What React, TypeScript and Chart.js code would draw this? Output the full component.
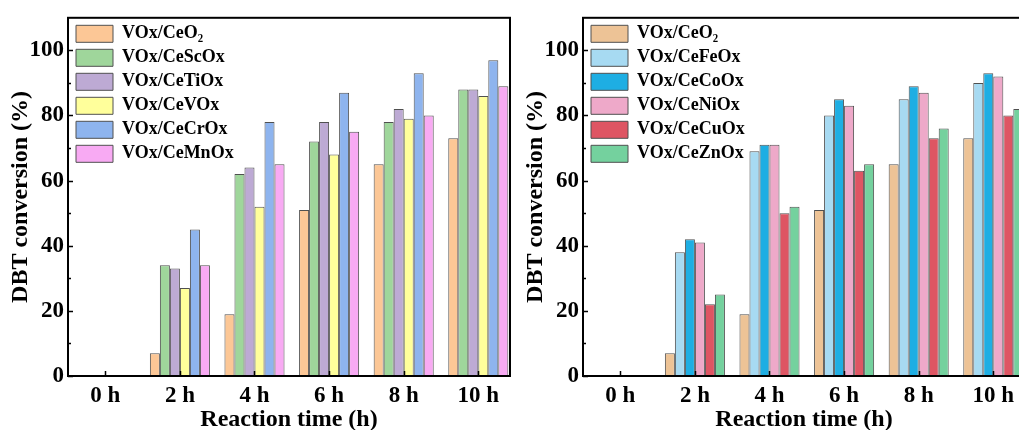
import React, { useEffect, useRef } from 'react';
import { Chart, registerables } from 'chart.js';

Chart.register(...registerables);

const FONT = '"Liberation Serif", "Times New Roman", serif';

// ---- shared axis data ----
const times = [0, 2, 4, 6, 8, 10];
const timeTickLabels = ['0 h', '2 h', '4 h', '6 h', '8 h', '10 h'];
const yMajorTicks = [0, 20, 40, 60, 80, 100];
const yMinorTicks = [10, 30, 50, 70, 90];
const xTitle = 'Reaction time (h)';
const yTitle = 'DBT conversion (%)';

// ---- left panel ----
const leftLabels = ['VOx/CeO₂', 'VOx/CeScOx', 'VOx/CeTiOx', 'VOx/CeVOx', 'VOx/CeCrOx', 'VOx/CeMnOx'];
const leftColors = ['#FCC796', '#9FD69B', '#BDAAD4', '#FFFF9B', '#8EB4EE', '#F8AAF3'];
const leftCeO2 = [0, 7, 19, 51, 65, 73];
const leftCeScOx = [0, 34, 62, 72, 78, 88];
const leftCeTiOx = [0, 33, 64, 78, 82, 88];
const leftCeVOx = [0, 27, 52, 68, 79, 86];
const leftCeCrOx = [0, 45, 78, 87, 93, 97];
const leftCeMnOx = [0, 34, 65, 75, 80, 89];

// ---- right panel ----
const rightLabels = ['VOx/CeO₂', 'VOx/CeFeOx', 'VOx/CeCoOx', 'VOx/CeNiOx', 'VOx/CeCuOx', 'VOx/CeZnOx'];
const rightColors = ['#EDC396', '#A7DAF2', '#1EAEE3', '#EEA9C9', '#DE5563', '#74D19E'];
const rightCeO2 = [0, 7, 19, 51, 65, 73];
const rightCeFeOx = [0, 38, 69, 80, 85, 90];
const rightCeCoOx = [0, 42, 71, 85, 89, 93];
const rightCeNiOx = [0, 41, 71, 83, 87, 92];
const rightCeCuOx = [0, 22, 50, 63, 73, 80];
const rightCeZnOx = [0, 25, 52, 65, 76, 82];

const legendPlacePlugin = {
  id: 'legendPlace',
  afterLayout(chart: any) {
    const lg = chart.legend;
    if (!lg) return;
    const a = chart.chartArea;
    lg.top = a.top + 1;
    lg.bottom = lg.top + lg.height;
    lg.left = a.left + 2;
    lg.right = lg.left + lg.width;
  },
};

const frameTicksPlugin = {
  id: 'frameTicks',
  afterDatasetsDraw(chart: any) {
    const { ctx, chartArea: a, scales } = chart;
    const x = scales.x;
    const y = scales.y;
    ctx.save();
    ctx.strokeStyle = '#000';
    ctx.lineWidth = 1.5;
    ctx.beginPath();
    for (const v of yMajorTicks) {
      const py = Math.round(y.getPixelForValue(v)) + 0.5;
      ctx.moveTo(a.left, py);
      ctx.lineTo(a.left + 5, py);
    }
    for (const v of yMinorTicks) {
      const py = Math.round(y.getPixelForValue(v)) + 0.5;
      ctx.moveTo(a.left, py);
      ctx.lineTo(a.left + 3, py);
    }
    for (const t of times) {
      const px = Math.round(x.getPixelForValue(t)) + 0.5;
      ctx.moveTo(px, a.bottom);
      ctx.lineTo(px, a.bottom - 5);
    }
    ctx.stroke();
    ctx.lineWidth = 2;
    ctx.strokeRect(a.left, a.top, a.right - a.left, a.bottom - a.top);
    ctx.restore();
  },
};

function makeConfig(labels: string[], colors: string[], series: number[][]): any {
  const tickFont = { family: FONT, size: 23, weight: 'bold' as const };
  return {
    type: 'bar',
    data: {
      datasets: series.map((s, i) => ({
        label: labels[i],
        data: times.map((t, j) => ({ x: t, y: s[j] })),
        backgroundColor: colors[i],
        borderColor: '#505050',
        borderWidth: 1,
      })),
    },
    options: {
      responsive: false,
      animation: false,
      devicePixelRatio: 1,
      layout: { padding: { left: 0, right: 5, top: 14, bottom: 0 } },
      datasets: { bar: { categoryPercentage: 0.805, barPercentage: 1 } },
      scales: {
        x: {
          type: 'linear',
          min: -1,
          max: 10.85,
          offset: false,
          grid: { display: false, drawTicks: false },
          border: { display: false },
          ticks: {
            stepSize: 2,
            includeBounds: false,
            autoSkip: false,
            maxRotation: 0,
            padding: 6,
            color: '#000',
            font: tickFont,
            callback: (v: number) => {
              const i = times.indexOf(v);
              return i >= 0 ? timeTickLabels[i] : '';
            },
          },
          title: {
            display: true,
            text: xTitle,
            color: '#000',
            font: { family: FONT, size: 24, weight: 'bold', lineHeight: 1 },
            padding: { top: 0, bottom: -2 },
          },
          afterFit: (s: any) => {
            s.height = 54;
          },
        },
        y: {
          min: 0,
          max: 110,
          grid: { display: false, drawTicks: false },
          border: { display: false },
          ticks: {
            stepSize: 20,
            includeBounds: false,
            padding: 4,
            color: '#000',
            font: tickFont,
          },
          title: {
            display: true,
            text: yTitle,
            color: '#000',
            font: { family: FONT, size: 24, weight: 'bold', lineHeight: 1 },
            padding: { top: 9, bottom: 0 },
          },
          afterFit: (s: any) => {
            s.width = 68;
          },
        },
      },
      plugins: {
        legend: {
          position: 'chartArea',
          align: 'start',
          labels: {
            boxWidth: 37,
            boxHeight: 17,
            padding: 6,
            color: '#000',
            font: { family: FONT, size: 18, weight: 'bold' },
          },
        },
        tooltip: { enabled: false },
      },
    },
    plugins: [legendPlacePlugin, frameTicksPlugin],
  };
}

function Panel({ side, left }: { side: 'left' | 'right'; left: number }) {
  const ref = useRef<HTMLCanvasElement>(null);
  useEffect(() => {
    const cfg =
      side === 'left'
        ? makeConfig(leftLabels, leftColors, [leftCeO2, leftCeScOx, leftCeTiOx, leftCeVOx, leftCeCrOx, leftCeMnOx])
        : makeConfig(rightLabels, rightColors, [rightCeO2, rightCeFeOx, rightCeCoOx, rightCeNiOx, rightCeCuOx, rightCeZnOx]);
    const chart = new Chart(ref.current as HTMLCanvasElement, cfg);
    return () => chart.destroy();
  }, [side]);
  return (
    <canvas
      ref={ref}
      width={515}
      height={430}
      style={{ position: 'absolute', left, top: 0, width: 515, height: 430 }}
    />
  );
}

export default function App() {
  return (
    <div
      style={{
        position: 'fixed',
        left: 0,
        top: 0,
        width: 1019,
        height: 430,
        overflow: 'hidden',
        background: '#fff',
      }}
    >
      <Panel side="left" left={0} />
      <Panel side="right" left={515} />
    </div>
  );
}
